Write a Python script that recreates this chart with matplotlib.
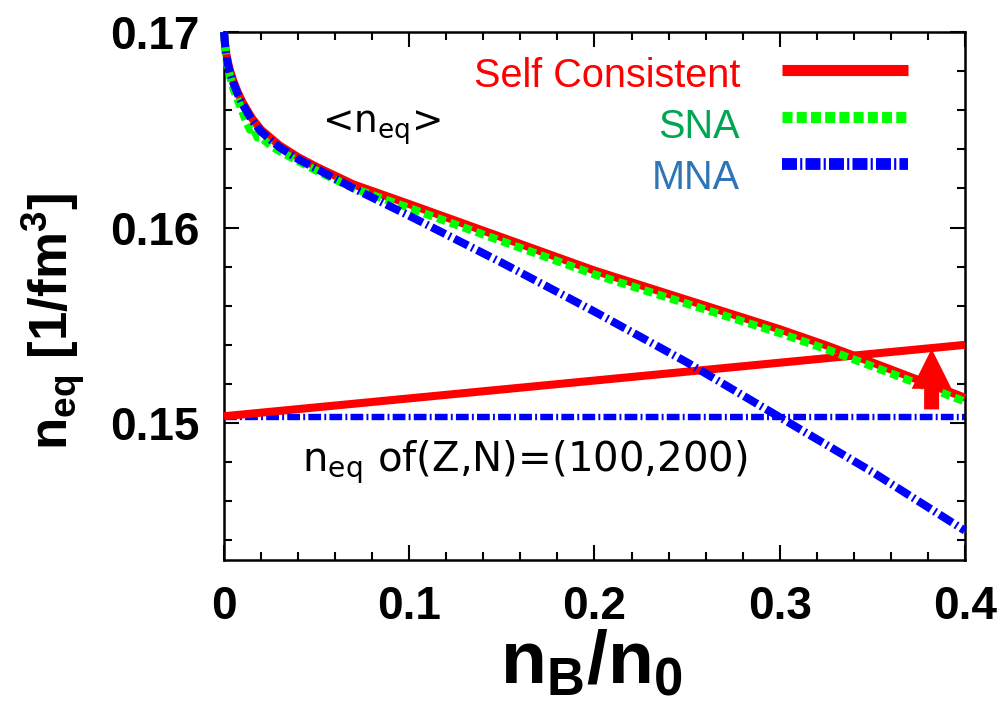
import matplotlib
matplotlib.use("Agg")
import matplotlib.pyplot as plt
import numpy as np

# curves
x_sc = [0.0, 0.0005, 0.001, 0.002, 0.003, 0.005, 0.0075, 0.01, 0.015, 0.02,
        0.03, 0.04, 0.05, 0.07, 0.10, 0.125, 0.15, 0.175, 0.20, 0.225,
        0.25, 0.275, 0.30, 0.325, 0.35, 0.375, 0.40]
y_sc = [0.1700, 0.1694, 0.1690, 0.1685, 0.1681, 0.1675, 0.1669, 0.1664,
        0.1656, 0.1650, 0.1642, 0.1636, 0.1631, 0.1622, 0.1612, 0.16035,
        0.1595, 0.15865, 0.1578, 0.15705, 0.1563, 0.15555, 0.1548, 0.15398,
        0.1531, 0.1522, 0.1513]

x_sna = [0.0, 0.0005, 0.001, 0.002, 0.003, 0.005, 0.0075, 0.01, 0.012, 0.014,
         0.016, 0.018, 0.02, 0.025, 0.03, 0.04, 0.05, 0.07, 0.10, 0.125,
         0.15, 0.175, 0.20, 0.225, 0.25, 0.275, 0.30, 0.325, 0.35, 0.375, 0.40]
y_sna = [0.1700, 0.1692, 0.1688, 0.1682, 0.1678, 0.1671, 0.1665, 0.1659,
         0.1654, 0.1650, 0.1651, 0.1646, 0.1646, 0.1642, 0.1639, 0.1634,
         0.1629, 0.1620, 0.1610, 0.16015, 0.1593, 0.15845, 0.1576, 0.15685,
         0.1561, 0.15535, 0.1546, 0.15378, 0.1529, 0.1520, 0.1511]

x_mna = [0.0, 0.0005, 0.001, 0.002, 0.003, 0.005, 0.0075, 0.01, 0.015, 0.02,
         0.03, 0.04, 0.05, 0.07, 0.10, 0.125, 0.15, 0.175, 0.20, 0.225,
         0.25, 0.275, 0.30, 0.325, 0.35, 0.375, 0.40]
y_mna = [0.1700, 0.1694, 0.1690, 0.1684, 0.1680, 0.1674, 0.1668, 0.1663,
         0.1655, 0.1649, 0.1641, 0.1635, 0.1630, 0.1620, 0.1606, 0.1594,
         0.1582, 0.15695, 0.1557, 0.1544, 0.1531, 0.1517, 0.1503, 0.1489,
         0.1475, 0.1460, 0.1445]

# straight red line and the (100,200) reference level
x_lin = [0.0, 0.40]
y_lin = [0.15035, 0.1540]
y_ref = 0.1503

arrow_x = 0.382
arrow_y = [0.1507, 0.1538]

xticks = [0, 0.1, 0.2, 0.3, 0.4]
xticklabels = ["0", "0.1", "0.2", "0.3", "0.4"]
yticks = [0.15, 0.16, 0.17]
yticklabels = ["0.15", "0.16", "0.17"]

RED = "#ff0000"
GREEN = "#00ff00"
BLUE = "#0000ff"

fig = plt.figure(figsize=(10.06, 7.09), dpi=100)
ax = fig.add_axes([0.2227, 0.2102, 0.7365, 0.7447])

lw = 5.8
ax.plot(x_sc, y_sc, color=RED, lw=lw, solid_capstyle="butt", clip_on=False, zorder=3)
ax.plot(x_sna, y_sna, color=GREEN, lw=lw, dashes=(1.1, 0.6), clip_on=False, zorder=4)
ax.plot(x_mna, y_mna, color=BLUE, lw=lw, dashes=(1.9, 0.5, 0.25, 0.5), clip_on=False, zorder=5)

ax.plot(x_lin, [y_ref, y_ref], color=BLUE, lw=4.6, dashes=(2.0, 0.5, 0.3, 0.5), zorder=2)
ax.plot(x_lin, y_lin, color=RED, lw=5.8, solid_capstyle="butt", zorder=3)

ax.annotate("", xy=(arrow_x, arrow_y[1]), xytext=(arrow_x, arrow_y[0]),
            arrowprops=dict(arrowstyle="simple,head_width=1.2,head_length=1.2,tail_width=0.45",
                            mutation_scale=24, color=RED, lw=0,
                            shrinkA=0, shrinkB=0), zorder=6)

ax.set_xlim(0, 0.4)
ax.set_ylim(0.143, 0.17)
ax.set_xticks(xticks)
ax.set_xticklabels(xticklabels)
ax.set_yticks(yticks)
ax.set_yticklabels(yticklabels)
ax.set_xticks(np.arange(0, 0.4001, 0.02), minor=True)
ax.set_yticks(np.arange(0.144, 0.1701, 0.002), minor=True)
ax.tick_params(which="both", direction="in", top=True, right=True, width=1.5)
ax.tick_params(which="major", length=11, pad=18)
ax.tick_params(which="minor", length=6)
for lab in ax.get_xticklabels() + ax.get_yticklabels():
    lab.set_family("Liberation Sans")
    lab.set_fontweight("bold")
    lab.set_fontsize(33)
for s in ax.spines.values():
    s.set_linewidth(1.8)

# axis titles
fig.text(591 / 1006, 1 - 683 / 709, r"n$_\mathregular{B}$/n$_\mathregular{0}$",
         family="Liberation Sans", fontweight="bold", fontsize=54,
         ha="center", va="baseline")
fig.text(68 / 1006, 1 - 321 / 709, r"n$_\mathregular{eq}$ [1/fm$^\mathregular{3}$]",
         family="Liberation Sans", fontweight="bold", fontsize=38,
         rotation=90, rotation_mode="anchor", ha="center", va="baseline")

# key, drawn by hand like the original
key_txt = ["Self Consistent", "SNA", "MNA"]
key_col = ["#ff0000", "#00a651", "#2e75b6"]
key_base = [0.8958, 0.799, 0.7027]
key_line = [0.928, 0.839, 0.750]
for t, c, yb in zip(key_txt, key_col, key_base):
    ax.text(0.6964, yb, t, transform=ax.transAxes, color=c, fontsize=28.5,
            family="Liberation Sans", ha="right", va="baseline")
kx = [0.753, 0.9231]
ax.plot(kx, [key_line[0]] * 2, transform=ax.transAxes, color=RED, lw=8, solid_capstyle="butt")
ax.plot(kx, [key_line[1]] * 2, transform=ax.transAxes, color=GREEN, lw=8, dashes=(0.9, 0.38))
ax.plot(kx, [key_line[2]] * 2, transform=ax.transAxes, color=BLUE, lw=8.5,
        dashes=(1.27, 0.27, 0.18, 0.27))

ax.text(0.1323, 0.8087, r"<n$_\mathregular{eq}$>", transform=ax.transAxes,
        fontsize=27, ha="left", va="baseline")
ax.text(0.105, 0.1686, r"n$_\mathregular{eq}$ of(Z,N)=(100,200)", transform=ax.transAxes,
        fontsize=29, ha="left", va="baseline")

fig.savefig("out.png", dpi=100)
